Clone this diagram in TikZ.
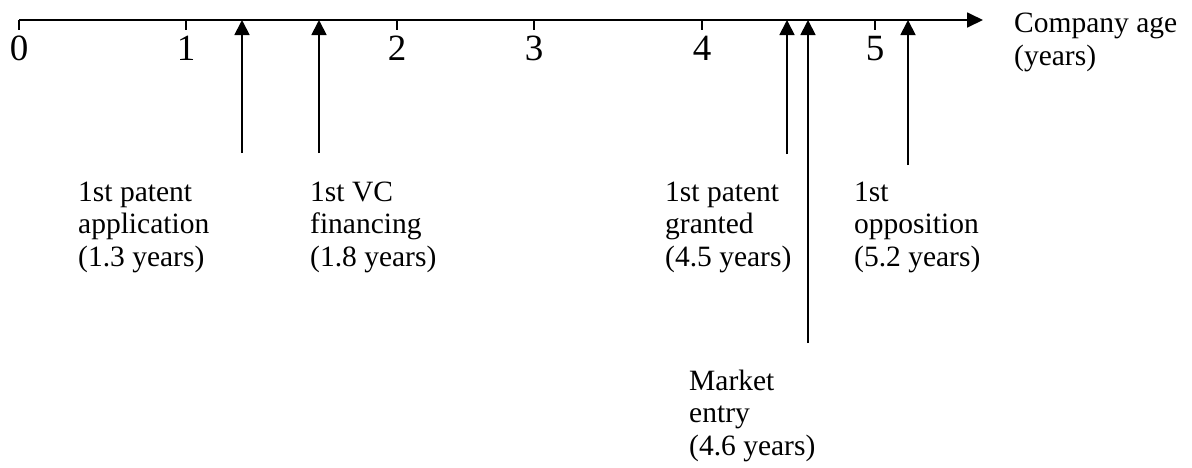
\documentclass[tikz,border=0pt]{standalone}
\usepackage{fontspec}
\setmainfont{Liberation Serif}
\usetikzlibrary{arrows.meta,positioning}
\tikzset{
  timeline/.style={-{Triangle[width=15pt,length=16pt]}, line width=1.8pt, black},
  event/.style={-{Triangle[width=15pt,length=15pt]}, line width=1.8pt, black},
  axistick/.style={line width=1.8pt, black},
  eventlabel/.style={anchor=base west, inner sep=0pt, align=left, font=\fontsize{29.5}{32.5}\selectfont},
  yearlabel/.style={anchor=base, inner sep=0pt, font=\fontsize{37}{40}\selectfont}
}
\begin{document}
\begin{tikzpicture}[x=1pt,y=-1pt]
  \useasboundingbox (0,0) rectangle (1192,467);
  \coordinate (origin) at (19,20);
  \coordinate (axisend) at (983,20);
  \draw[timeline] (origin) -- (axisend);
  % base of a multi-line node is its last line
  \node[eventlabel] (agelabel) at (1014,65) {Company age\\(years)};
  \foreach \n/\x in {0/19,1/186,2/397,3/534,4/702,5/875}{
    \coordinate (t\n) at (\x,20);
    \draw[axistick] (t\n) -- ++(0,10);
    \node[yearlabel] (year\n) at (\x,60) {\n};
  }
  \foreach \name/\x/\ybot in {app/242/153,vc/319/153,grant/787/154,market/808/343,opp/908/165}{
    \coordinate (\name top) at (\x,20);
    \coordinate (\name foot) at (\x,\ybot);
    \draw[event] (\name foot) -- (\name top);
  }
  \node[eventlabel] (applabel) at (78,266) {1st patent\\application\\(1.3 years)};
  \node[eventlabel] (vclabel) at (310,266) {1st VC\\financing\\(1.8 years)};
  \node[eventlabel] (grantlabel) at (665,266) {1st patent\\granted\\(4.5 years)};
  \node[eventlabel] (opplabel) at (854,266) {1st\\opposition\\(5.2 years)};
  \node[eventlabel] (marketlabel) at (689,455) {Market\\entry\\(4.6 years)};
\end{tikzpicture}
\end{document}
